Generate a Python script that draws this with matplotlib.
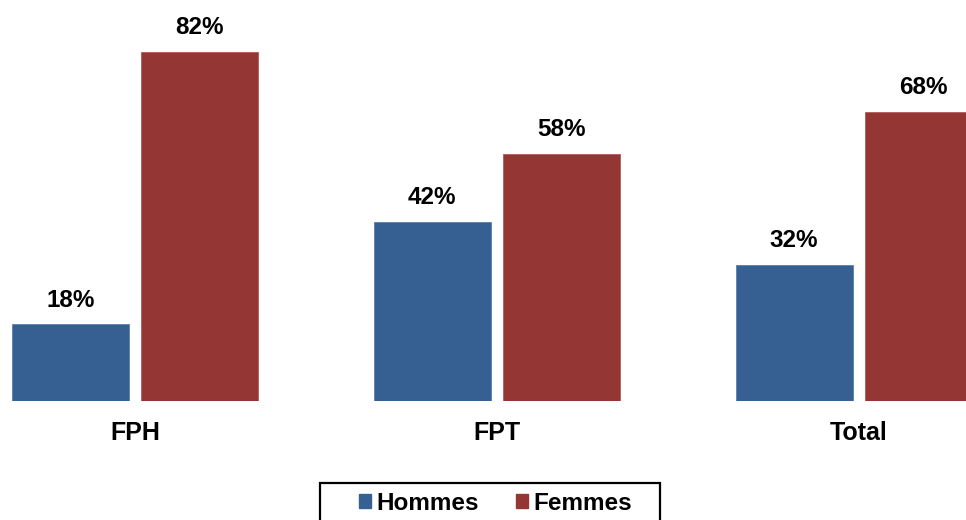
import matplotlib
matplotlib.use("Agg")
import matplotlib.pyplot as plt
from matplotlib.patches import Patch, Rectangle
import numpy as np

categories = ["FPH", "FPT", "Total"]
series_names = ["Hommes", "Femmes"]
hommes = [18, 42, 32]
femmes = [82, 58, 68]

blue = "#366092"
red = "#943634"

plt.rcParams['font.family'] = ['Liberation Sans', 'DejaVu Sans']

W, H = 966, 520
fig = plt.figure(figsize=(W / 100, H / 100), dpi=100)
base_px = 401  # from top
ax = fig.add_axes([0, (H - base_px) / H, 1, base_px / H])

x = np.arange(len(categories))
off = 0.179
w = 0.323
b1 = ax.bar(x - off, hommes, w, color=blue, edgecolor="#5a7fae", linewidth=0.6)
b2 = ax.bar(x + off, femmes, w, color=red, edgecolor="#b05a58", linewidth=0.6)

ax.set_xlim(-135 / 362, (W - 135) / 362)
ax.set_ylim(0, base_px / 4.256)

for bars, vals in ((b1, hommes), (b2, femmes)):
    for r, v in zip(bars, vals):
        ax.annotate(f"{v}%", (r.get_x() + r.get_width() / 2, v),
                    xytext=(0, 17.5), textcoords="offset points",
                    ha="center", va="center", fontsize=17.5, fontweight="bold",
                    annotation_clip=False)

ax.set_xticks(x)
ax.set_xticklabels(categories, fontsize=18, fontweight="bold")
ax.tick_params(axis="x", length=0, pad=14.5)
ax.set_yticks([])
for s in ax.spines.values():
    s.set_visible(False)

# legend frame
fig.patches.append(Rectangle((320 / W, -0.05), 340 / W, 0.05 + (H - 483) / H,
                             transform=fig.transFigure, fill=False,
                             edgecolor="black", linewidth=1.6))
handles = [Patch(color=blue), Patch(color=red)]
leg = fig.legend(handles, series_names, loc="center",
                 bbox_to_anchor=(495.5 / W, 1 - 503 / H), ncol=2,
                 prop={"size": 17.5, "weight": "bold"},
                 handlelength=0.5, handleheight=0.5, handletextpad=0.2,
                 columnspacing=1.55, borderpad=0, borderaxespad=0,
                 frameon=False)

fig.savefig("out.png", dpi=100)
